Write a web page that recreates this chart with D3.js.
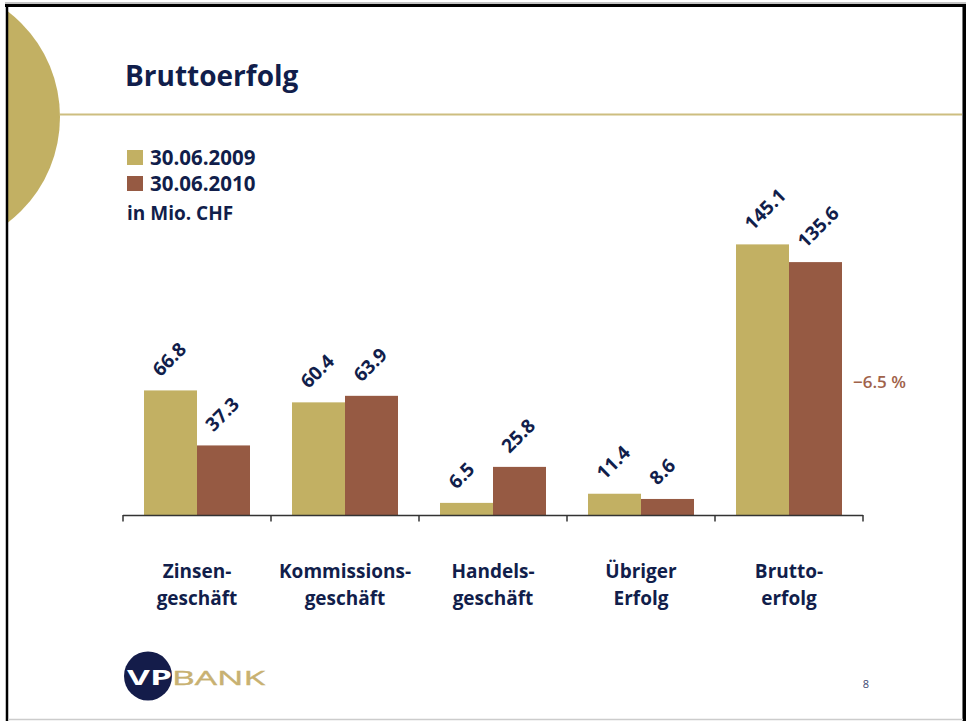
<!DOCTYPE html>
<html>
<head>
<meta charset="utf-8">
<script src="https://cdn.jsdelivr.net/npm/d3@7"></script>
<style>
  html, body { margin: 0; padding: 0; background: #fff; }
  svg { display: block; }
  text { font-family: "Open Sans", "Noto Sans", sans-serif; }
</style>
</head>
<body>
<svg id="chart" width="966" height="721"></svg>
<script>
// ---- data ----
const categories = ["Zinsengeschäft", "Kommissionsgeschäft", "Handelsgeschäft", "Übriger Erfolg", "Bruttoerfolg"];
const categoryLines = [["Zinsen-", "geschäft"], ["Kommissions-", "geschäft"], ["Handels-", "geschäft"], ["Übriger", "Erfolg"], ["Brutto-", "erfolg"]];
const seriesNames = ["30.06.2009", "30.06.2010"];
const values2009 = [66.8, 60.4, 6.5, 11.4, 145.1];
const values2010 = [37.3, 63.9, 25.8, 8.6, 135.6];
const changeLabel = "\u22126.5 %";
const unitLabel = "in Mio. CHF";
const titleText = "Bruttoerfolg";
const pageNumber = "8";

const colors = { "30.06.2009": "#C2B063", "30.06.2010": "#965A43" };
const navy = "#111E4B";

const svg = d3.select("#chart");

// decorative circle (clipped by frame)
svg.append("clipPath").attr("id", "pageClip")
  .append("rect").attr("x", 8).attr("y", 6).attr("width", 955).attr("height", 713);
svg.append("circle").attr("cx", -73).attr("cy", 117).attr("r", 133)
  .attr("fill", "#C2B063").attr("clip-path", "url(#pageClip)");

// gold rule
svg.append("line").attr("x1", 60).attr("x2", 963).attr("y1", 114.5).attr("y2", 114.5)
  .attr("stroke", "#CDBE80").attr("stroke-width", 2);

// frame
svg.append("line").attr("x1", 5).attr("x2", 966).attr("y1", 3).attr("y2", 3).attr("stroke", "#888").attr("stroke-width", 1);
svg.append("line").attr("x1", 5).attr("x2", 966).attr("y1", 5.5).attr("y2", 5.5).attr("stroke", "#000").attr("stroke-width", 3);
svg.append("line").attr("x1", 7).attr("x2", 7).attr("y1", 4).attr("y2", 721).attr("stroke", "#000").attr("stroke-width", 2.5);
svg.append("line").attr("x1", 964.5).attr("x2", 964.5).attr("y1", 4).attr("y2", 721).attr("stroke", "#000").attr("stroke-width", 3);
svg.append("line").attr("x1", 962.5).attr("x2", 962.5).attr("y1", 7).attr("y2", 721).attr("stroke", "#777").attr("stroke-width", 1);
svg.append("line").attr("x1", 8).attr("x2", 963).attr("y1", 719.5).attr("y2", 719.5).attr("stroke", "#ccc").attr("stroke-width", 1.5);

// title
svg.append("text").attr("x", 125).attr("y", 86).text(titleText)
  .attr("font-size", 28).attr("font-weight", 700).attr("fill", navy);

// legend
seriesNames.forEach((s, i) => {
  svg.append("rect").attr("x", 127).attr("y", 150 + i * 26).attr("width", 16).attr("height", 15).attr("fill", colors[s]);
  svg.append("text").attr("x", 150).attr("y", 165 + i * 26).text(s)
    .attr("font-size", 20.5).attr("font-weight", 700).attr("fill", navy);
});
svg.append("text").attr("x", 127).attr("y", 220).text(unitLabel)
  .attr("font-size", 19).attr("font-weight", 700).attr("fill", navy);

// scales
const x0 = d3.scaleBand().domain(categories).range([123, 863]).paddingInner(0).paddingOuter(0);
const x1 = d3.scaleBand().domain(seriesNames).range([21, x0.bandwidth() - 21]).padding(0);
const y = d3.scaleLinear().domain([0, 160]).range([515, 216.6]);

const rows = categories.map((c, i) => ({ cat: c, vals: [values2009[i], values2010[i]] }));

const groups = svg.selectAll("g.grp").data(rows).join("g").attr("class", "grp")
  .attr("transform", d => `translate(${x0(d.cat)},0)`);

groups.selectAll("rect").data(d => d.vals.map((v, j) => ({ s: seriesNames[j], v })))
  .join("rect")
  .attr("x", d => x1(d.s)).attr("width", x1.bandwidth())
  .attr("y", d => y(d.v)).attr("height", d => y(0) - y(d.v))
  .attr("fill", d => colors[d.s]);

groups.selectAll("text.val").data(d => d.vals.map((v, j) => ({ s: seriesNames[j], v })))
  .join("text").attr("class", "val")
  .attr("transform", d => `translate(${x1(d.s) + x1.bandwidth() / 2 - 10},${y(d.v) - 13}) rotate(-45)`)
  .text(d => d.v.toFixed(1))
  .attr("font-size", 19).attr("font-weight", 700).attr("fill", navy);

// axis: baseline with ticks at category boundaries
const axisG = svg.append("g").attr("transform", `translate(0,${y(0)})`);
const boundaries = categories.map(c => x0(c)).concat([x0.range()[1]]);
axisG.append("line").attr("x1", x0.range()[0]).attr("x2", x0.range()[1]).attr("y1", 0.5).attr("y2", 0.5)
  .attr("stroke", "#333").attr("stroke-width", 1.5);
axisG.selectAll("line.tick").data(boundaries).join("line").attr("class", "tick")
  .attr("x1", d => d).attr("x2", d => d).attr("y1", 0).attr("y2", 6.5)
  .attr("stroke", "#333").attr("stroke-width", 1.5);

// category labels
categories.forEach((c, i) => {
  const t = svg.append("text").attr("text-anchor", "middle")
    .attr("font-size", 19).attr("font-weight", 700).attr("fill", navy);
  categoryLines[i].forEach((ln, k) => {
    t.append("tspan").attr("x", x0(c) + x0.bandwidth() / 2).attr("y", 578 + k * 27).text(ln);
  });
});

// change annotation
svg.append("text").attr("x", 853).attr("y", 388).text(changeLabel)
  .attr("font-size", 17).attr("font-weight", 600).attr("fill", "#A0624A");

// logo
svg.append("ellipse").attr("cx", 148).attr("cy", 676).attr("rx", 24).attr("ry", 24.5).attr("fill", "#141C4A");
svg.append("text").attr("x", 127).attr("y", 685).text("VP")
  .attr("font-family", "Liberation Serif, serif").attr("font-size", 21).attr("font-weight", 700)
  .attr("fill", "#fff").attr("textLength", 45).attr("lengthAdjust", "spacingAndGlyphs");
svg.append("text").attr("x", 172).attr("y", 685).text("BANK")
  .attr("font-family", "Liberation Sans, sans-serif").attr("font-size", 20.5)
  .attr("fill", "#C8B171").attr("stroke", "#C8B171").attr("stroke-width", 0.4)
  .attr("textLength", 93).attr("lengthAdjust", "spacingAndGlyphs");

// page number
svg.append("text").attr("x", 866).attr("y", 688).attr("text-anchor", "middle").text(pageNumber)
  .attr("font-size", 11).attr("fill", "#3B4770");
</script>
</body>
</html>
